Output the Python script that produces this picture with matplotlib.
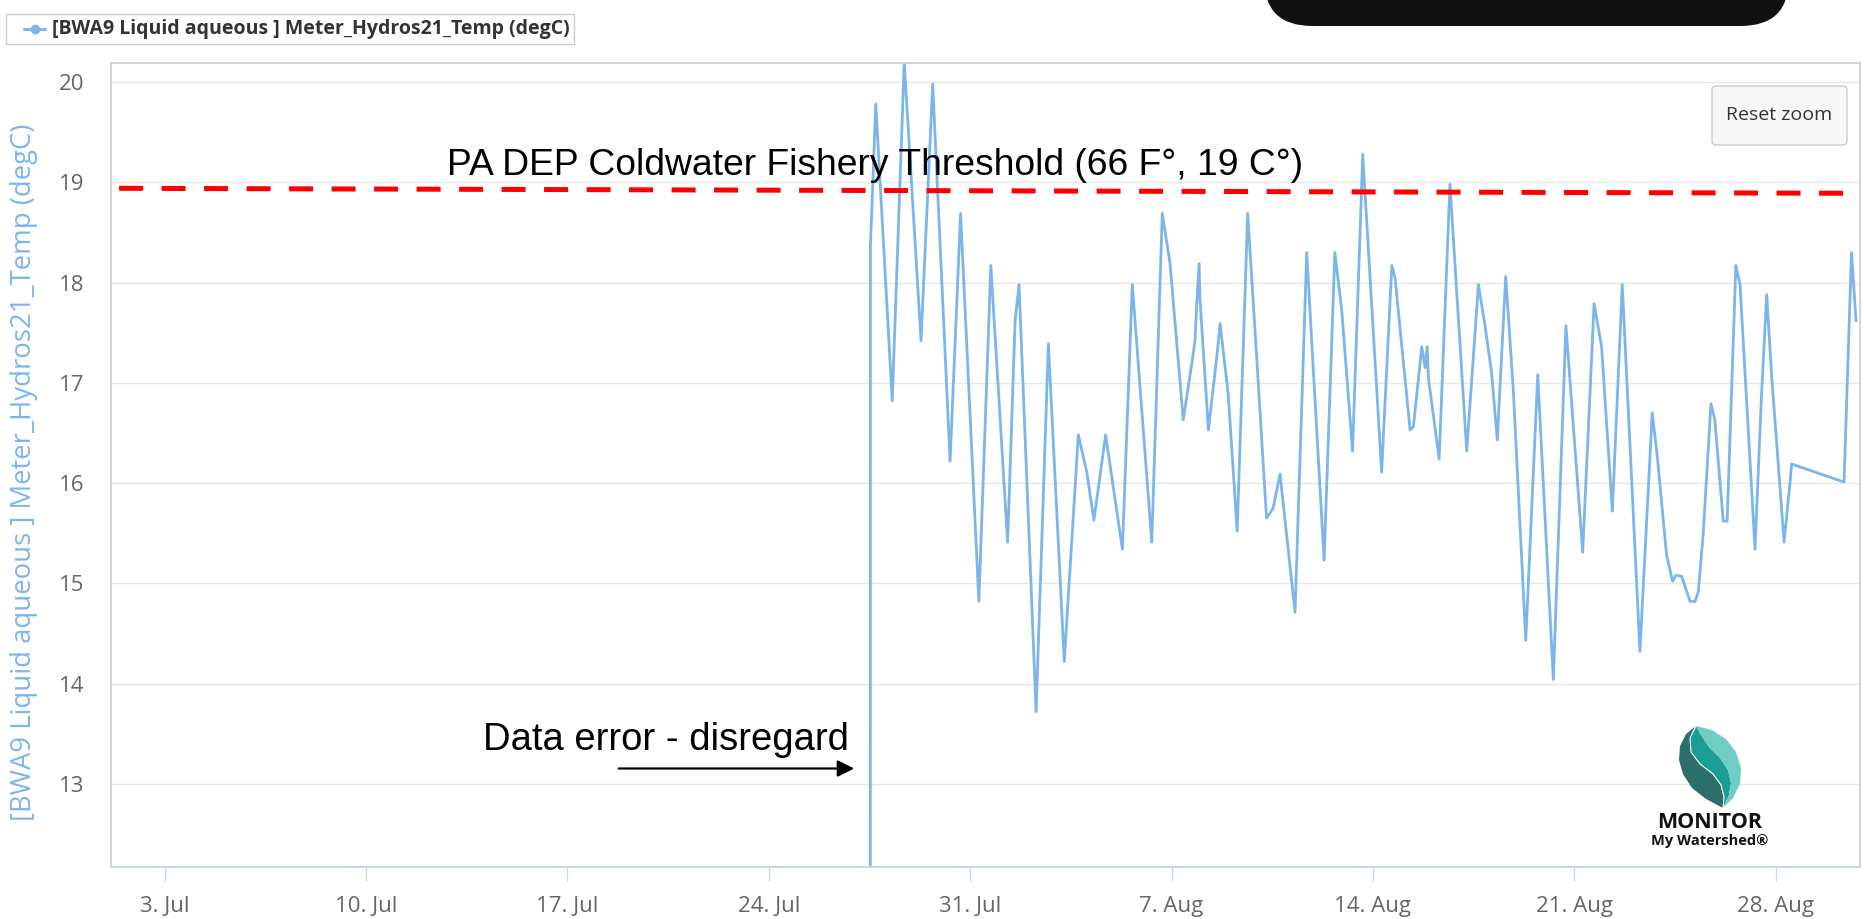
#!/usr/bin/env python3
import pandas as pd
import matplotlib
matplotlib.use("Agg")
import matplotlib.pyplot as plt
import matplotlib.transforms as mtransforms
from matplotlib.patches import FancyBboxPatch, Polygon, Rectangle
from matplotlib.lines import Line2D

W, H = 1864, 919

SERIES_NAME = "[BWA9 Liquid aqueous ] Meter_Hydros21_Temp (degC)"

# sensor readings (local extrema)
times = [
    "2023-07-27 12:30", "2023-07-27 12:45", "2023-07-27 17:15", "2023-07-28 07:00",
    "2023-07-28 17:00", "2023-07-29 07:00", "2023-07-29 16:45", "2023-07-30 07:15",
    "2023-07-30 16:00", "2023-07-31 07:15", "2023-07-31 17:15", "2023-08-01 07:15",
    "2023-08-01 13:30", "2023-08-01 16:45", "2023-08-02 07:00", "2023-08-02 17:15",
    "2023-08-03 06:30", "2023-08-03 18:15", "2023-08-04 01:15", "2023-08-04 07:15",
    "2023-08-04 17:00", "2023-08-05 07:00", "2023-08-05 15:15", "2023-08-06 07:30",
    "2023-08-06 16:15", "2023-08-06 22:45", "2023-08-07 09:45", "2023-08-07 16:45",
    "2023-08-07 19:30", "2023-08-07 21:00", "2023-08-07 23:00", "2023-08-07 23:45",
    "2023-08-08 06:45", "2023-08-08 13:45", "2023-08-08 16:30", "2023-08-08 23:15",
    "2023-08-09 06:45", "2023-08-09 15:30", "2023-08-09 23:00", "2023-08-10 07:15",
    "2023-08-10 12:45", "2023-08-10 18:30", "2023-08-11 07:00", "2023-08-11 16:45",
    "2023-08-12 07:15", "2023-08-12 16:15", "2023-08-12 22:00", "2023-08-13 07:00",
    "2023-08-13 15:30", "2023-08-14 07:15", "2023-08-14 15:45", "2023-08-14 18:30",
    "2023-08-15 07:00", "2023-08-15 09:45", "2023-08-15 16:45", "2023-08-15 19:30",
    "2023-08-15 21:15", "2023-08-15 22:15", "2023-08-16 07:15", "2023-08-16 16:15",
    "2023-08-17 06:15", "2023-08-17 16:00", "2023-08-17 21:30", "2023-08-18 03:00",
    "2023-08-18 07:45", "2023-08-18 14:45", "2023-08-18 21:00", "2023-08-19 07:30",
    "2023-08-19 17:30", "2023-08-20 06:30", "2023-08-20 17:00", "2023-08-21 07:00",
    "2023-08-21 16:30", "2023-08-21 22:45", "2023-08-22 07:45", "2023-08-22 16:00",
    "2023-08-23 06:45", "2023-08-23 17:00", "2023-08-23 20:45", "2023-08-24 05:00",
    "2023-08-24 10:00", "2023-08-24 12:45", "2023-08-24 17:30", "2023-08-24 21:45",
    "2023-08-25 00:30", "2023-08-25 04:45", "2023-08-25 07:30", "2023-08-25 11:30",
    "2023-08-25 18:00", "2023-08-25 21:15", "2023-08-26 04:15", "2023-08-26 07:30",
    "2023-08-26 14:45", "2023-08-26 18:15", "2023-08-27 06:45", "2023-08-27 12:15",
    "2023-08-27 16:30", "2023-08-27 20:45", "2023-08-28 07:00", "2023-08-28 12:00",
    "2023-08-28 13:15", "2023-08-30 09:00", "2023-08-30 15:15", "2023-08-30 19:00",
]
temps = [
    0.00, 18.35, 19.78, 16.82,
    20.20, 17.42, 19.98, 16.22,
    18.69, 14.82, 18.17, 15.41,
    17.62, 17.98, 13.72, 17.39,
    14.22, 16.48, 16.11, 15.63,
    16.48, 15.34, 17.98, 15.41,
    18.69, 18.19, 16.63, 17.18,
    17.41, 17.78, 18.19, 17.83,
    16.53, 17.26, 17.59, 16.89,
    15.52, 18.69, 17.26, 15.65,
    15.75, 16.09, 14.71, 18.30,
    15.23, 18.30, 17.72, 16.32,
    19.28, 16.11, 18.17, 18.04,
    16.53, 16.56, 17.36, 17.15,
    17.36, 17.05, 16.24, 18.98,
    16.32, 17.98, 17.57, 17.10,
    16.43, 18.06, 16.95, 14.43,
    17.08, 14.04, 17.57, 15.31,
    17.79, 17.36, 15.72, 17.98,
    14.32, 16.70, 16.32, 15.28,
    15.02, 15.08, 15.07, 14.92,
    14.82, 14.82, 14.92, 15.49,
    16.79, 16.63, 15.62, 15.62,
    18.17, 17.98, 15.34, 16.90,
    17.88, 17.05, 15.41, 16.01,
    16.19, 16.01, 18.30, 17.62,
]

tick_dates = ["2023-07-03", "2023-07-10", "2023-07-17", "2023-07-24", "2023-07-31",
              "2023-08-07", "2023-08-14", "2023-08-21", "2023-08-28"]
tick_labels = ["3. Jul", "10. Jul", "17. Jul", "24. Jul", "31. Jul",
               "7. Aug", "14. Aug", "21. Aug", "28. Aug"]
y_ticks = [13, 14, 15, 16, 17, 18, 19, 20]
x_range = ["2023-07-01 03:15", "2023-08-30 22:20"]
y_range = [12.17, 20.19]

# hand-drawn threshold overlay
threshold_x = ["2023-07-01 10:00", "2023-08-31 00:00"]
threshold_y = [18.94, 18.89]
threshold_label = "PA DEP Coldwater Fishery Threshold (66 F°, 19 C°)"
error_label = "Data error - disregard"

LINE_BLUE = "#7cb5ec"


def top(y):
    # screenshot pixel rows are counted from the top
    return H - y


def draw_logo(fig, px):
    dark = [(1696, 726), (1686, 734), (1680, 746), (1679, 760), (1683, 774), (1692, 788),
            (1706, 799), (1723, 808), (1724, 797), (1721, 785), (1713, 774), (1700, 764),
            (1691, 752), (1690, 738)]
    mid = [(1696, 726), (1690, 738), (1691, 752), (1700, 764), (1713, 774), (1721, 785),
           (1724, 797), (1723, 808), (1729, 795), (1731, 783), (1728, 770), (1720, 758),
           (1709, 747), (1701, 735)]
    light = [(1696, 726), (1701, 735), (1709, 747), (1720, 758), (1728, 770), (1731, 783),
             (1729, 795), (1723, 808), (1733, 798), (1740, 784), (1741, 768), (1736, 752),
             (1726, 739), (1712, 730)]
    for pts, c in [(dark, "#2c6e6a"), (mid, "#1a9e95"), (light, "#6fcdc4")]:
        fig.add_artist(Polygon([(x, top(y)) for x, y in pts], closed=True, transform=px,
                               fc=c, ec="none"))
    s_line = dark[7:] + [dark[0]]
    fig.add_artist(Line2D([p[0] for p in s_line], [top(p[1]) for p in s_line],
                          transform=px, color="white", lw=0.8))
    fig.text(1710, top(823), "MONITOR", transform=px, ha="center", va="center",
             fontsize=15.5, fontweight="bold", color="#111111")
    fig.text(1710, top(841), "My Watershed®", transform=px, ha="center", va="center",
             fontsize=10.5, fontweight="bold", color="#111111")


def main():
    plt.rcParams["font.family"] = ["Open Sans", "DejaVu Sans"]
    fig = plt.figure(figsize=(W / 100, H / 100), dpi=100)
    px = mtransforms.Affine2D().scale(1.0 / fig.dpi) + fig.dpi_scale_trans

    ax = fig.add_axes([111 / W, 1 - 867 / H, 1749 / W, 804 / H])
    t = pd.to_datetime(times)
    ax.plot(t, temps, color=LINE_BLUE, lw=2.0, solid_joinstyle="round")

    ax.set_xlim(pd.to_datetime(x_range))
    ax.set_ylim(*y_range)
    ax.set_xticks(pd.to_datetime(tick_dates))
    ax.set_xticklabels(tick_labels)
    ax.set_yticks(y_ticks)
    ax.tick_params(axis="y", length=0, pad=19, labelsize=16, labelcolor="#666666")
    ax.tick_params(axis="x", length=10, width=1, color="#ccd6eb", pad=11,
                   labelsize=16, labelcolor="#666666")
    ax.grid(axis="y", color="#e6e6e6", lw=1)
    ax.set_axisbelow(True)
    for side in ["top", "left", "right"]:
        ax.spines[side].set_color("#cccccc")
        ax.spines[side].set_linewidth(1.2)
    ax.spines["bottom"].set_color("#ccd6eb")
    ax.spines["bottom"].set_linewidth(1.5)

    # threshold overlay + notes
    ax.plot(pd.to_datetime(threshold_x), threshold_y, color="#ff0000", lw=3.6,
            linestyle=(0, (4.8, 3.7)), dash_capstyle="butt")
    ax.text(0.1921, 0.8607, threshold_label, transform=ax.transAxes, fontsize=26.8,
            family="Liberation Sans", va="baseline", color="black")
    ax.text(0.2127, 0.1455, error_label, transform=ax.transAxes, fontsize=27.5,
            family="Liberation Sans", va="baseline", color="black")
    ax.annotate("", xy=(0.4265, 0.1225), xytext=(0.2887, 0.1225), xycoords="axes fraction",
                arrowprops=dict(arrowstyle="-|>", color="black", lw=1.6, mutation_scale=25))

    # y axis title
    fig.text(24, top(472), SERIES_NAME, transform=px, rotation=90, ha="center",
             va="center", fontsize=19.8, color=LINE_BLUE)

    # legend box
    fig.add_artist(Rectangle((6, top(44)), 568, 30, transform=px, fc="white",
                             ec="#cccccc", lw=1))
    fig.add_artist(Line2D([24, 45], [top(29), top(29)], transform=px, color=LINE_BLUE, lw=2))
    fig.add_artist(Line2D([34.5], [top(29)], transform=px, color=LINE_BLUE, marker="o",
                          ms=6, lw=0))
    fig.text(52, top(29), SERIES_NAME, transform=px, ha="left", va="center",
             fontsize=14, fontweight="bold", color="#333333")

    # reset zoom button
    fig.add_artist(FancyBboxPatch((1712, top(145)), 135, 59,
                                  boxstyle="round,pad=0,rounding_size=4", transform=px,
                                  fc="#f7f7f7", ec="#cccccc", lw=1))
    fig.text(1779.5, top(115.5), "Reset zoom", transform=px, ha="center", va="center",
             fontsize=14, color="#333333")

    # dark overlay at the top edge of the screenshot
    fig.add_artist(FancyBboxPatch((1264, top(26)), 525, 80,
                                  boxstyle="round,pad=0,rounding_size=48", transform=px,
                                  fc="#111111", ec="none"))

    draw_logo(fig, px)

    fig.savefig("out.png", dpi=100)
    plt.close(fig)


if __name__ == "__main__":
    main()
